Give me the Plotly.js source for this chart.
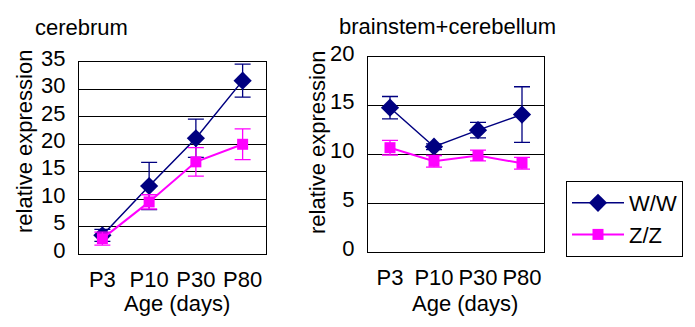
<!DOCTYPE html>
<html><head><meta charset="utf-8">
<script src="https://cdn.plot.ly/plotly-3.0.1.min.js"></script>
<style>html,body{margin:0;padding:0;background:#fff}#c{width:695px;height:327px}</style>
</head><body><div id="c"></div>
<script>
var categories = ['P3', 'P10', 'P30', 'P80'];
var cerebrumWW = [3.4, 12.4, 21.1, 31.6];
var cerebrumWWErr = [1.1, 4.3, 3.5, 3.0];
var cerebrumZZ = [2.8, 9.5, 16.8, 20.0];
var cerebrumZZErr = [1.2, 1.3, 2.6, 2.8];
var brainWW = [14.8, 10.8, 12.5, 14.1];
var brainWWErr = [1.15, 0.3, 0.8, 2.85];
var brainZZ = [10.7, 9.3, 9.9, 9.1];
var brainZZErr = [0.75, 0.6, 0.55, 0.6];
var seriesNames = ['W/W', 'Z/Z'];
var leftTicks = [0, 5, 10, 15, 20, 25, 30, 35];
var rightTicks = [0, 5, 10, 15, 20];

var NAVY = '#000080', MAG = '#FF00FF';
var FONT = 'Liberation Sans, Arial, sans-serif';

function tr(y, err, name, xa, ya, color, symbol, size, lw, show) {
  return {
    x: categories, y: y, name: name, xaxis: xa, yaxis: ya, type: 'scatter',
    mode: 'lines+markers', showlegend: show,
    line: {color: color, width: lw},
    marker: {color: color, symbol: symbol, size: size},
    error_y: {type: 'data', array: err, visible: true, color: color, thickness: 1.3, width: 8}
  };
}

var data = [
  tr(cerebrumWW, cerebrumWWErr, seriesNames[0], 'x', 'y', NAVY, 'diamond', 14, 1.5, true),
  tr(cerebrumZZ, cerebrumZZErr, seriesNames[1], 'x', 'y', MAG, 'square', 11, 2, true),
  tr(brainWW, brainWWErr, seriesNames[0], 'x2', 'y2', NAVY, 'diamond', 14, 1.5, false),
  tr(brainZZ, brainZZErr, seriesNames[1], 'x2', 'y2', MAG, 'square', 11, 2, false)
];

function xax(dom, anchor) {
  return {domain: dom, anchor: anchor, type: 'category', range: [-0.5, 3.5],
    showline: true, mirror: true, linecolor: '#000', linewidth: 1, showgrid: false,
    ticks: '', ticklabelstandoff: 6, tickfont: {family: FONT, size: 22, color: '#000'}, fixedrange: true};
}
function yax(dom, anchor, range, tv) {
  return {domain: dom, anchor: anchor, range: range, tickvals: tv,
    showline: true, mirror: true, linecolor: '#000', linewidth: 1,
    showgrid: true, gridcolor: '#000', gridwidth: 1, zeroline: false,
    ticks: '', ticklabelstandoff: 8, ticklabelshift: -4,
    tickfont: {family: FONT, size: 22, color: '#000'}, fixedrange: true};
}

var W = 695, H = 327;
function px(x) { return x / W; }
function py(y) { return 1 - y / H; }

var layout = {
  width: W, height: H, margin: {l: 0, r: 0, t: 0, b: 0},
  paper_bgcolor: '#fff', plot_bgcolor: '#fff', showlegend: true,
  font: {family: FONT, size: 22, color: '#000'},
  xaxis: xax([px(79), px(266)], 'y'),
  yaxis: yax([py(254), py(62)], 'x', [0, 35], leftTicks),
  xaxis2: xax([px(368), px(544)], 'y2'),
  yaxis2: yax([py(252), py(57)], 'x2', [0, 20], rightTicks),
  legend: {x: px(566), y: py(181), xanchor: 'left', yanchor: 'top',
    bordercolor: '#000', borderwidth: 1, bgcolor: '#fff', itemwidth: 52,
    tracegroupgap: 0,
    font: {family: FONT, size: 22, color: '#000'}},
  annotations: [
    {text: 'cerebrum', x: px(81), y: py(28), xref: 'paper', yref: 'paper', showarrow: false, xanchor: 'center', yanchor: 'middle', font: {size: 22}},
    {text: 'brainstem+cerebellum', x: px(447), y: py(27), xref: 'paper', yref: 'paper', showarrow: false, xanchor: 'center', yanchor: 'middle', font: {size: 22}},
    {text: 'relative expression', x: px(24), y: py(142), xref: 'paper', yref: 'paper', showarrow: false, textangle: -90, xanchor: 'center', yanchor: 'middle', font: {size: 22}},
    {text: 'relative expression', x: px(317), y: py(143), xref: 'paper', yref: 'paper', showarrow: false, textangle: -90, xanchor: 'center', yanchor: 'middle', font: {size: 22}},
    {text: 'Age (days)', x: px(177), y: py(303), xref: 'paper', yref: 'paper', showarrow: false, xanchor: 'center', yanchor: 'middle', font: {size: 22}},
    {text: 'Age (days)', x: px(465), y: py(303), xref: 'paper', yref: 'paper', showarrow: false, xanchor: 'center', yanchor: 'middle', font: {size: 22}}
  ]
};

Plotly.newPlot('c', data, layout, {displayModeBar: false, staticPlot: true});
</script></body></html>
